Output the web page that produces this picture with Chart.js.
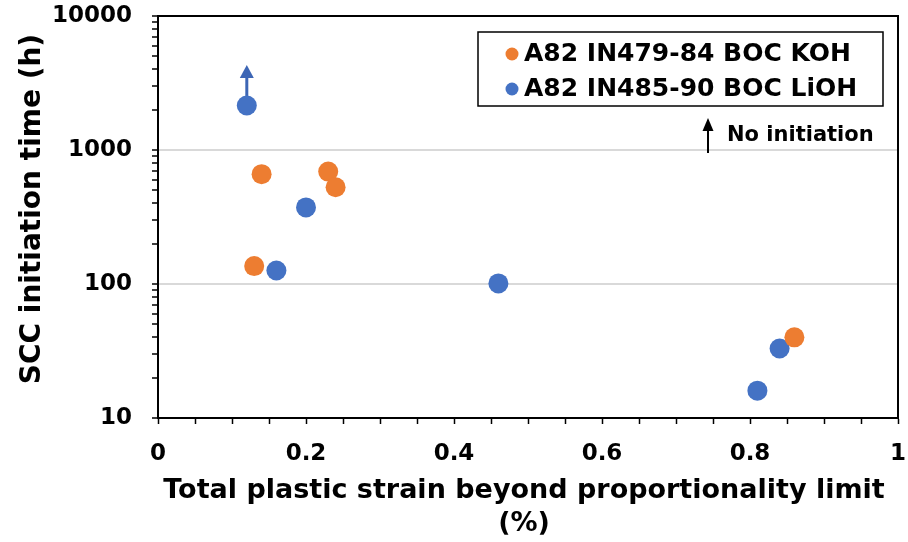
<!DOCTYPE html>
<html>
<head>
<meta charset="utf-8">
<script src="https://cdn.jsdelivr.net/npm/chart.js@4.4.0/dist/chart.umd.min.js"></script>
<style>
  body { margin: 0; background: #fff; }
  #wrap { width: 908px; height: 542px; }
</style>
</head>
<body>
<div id="wrap"><canvas id="sccChart" width="908" height="542"></canvas></div>
<script>
// data
const seriesLabels = ['A82 IN479-84 BOC KOH', 'A82 IN485-90 BOC LiOH'];
const kohStrain = [0.14, 0.13, 0.23, 0.24, 0.86];
const kohTime = [660, 136, 690, 527, 40];
const liohStrain = [0.12, 0.16, 0.20, 0.46, 0.81, 0.84];
const liohTime = [2150, 126, 373, 101, 16, 33];
const seriesColors = ['#ed7d31', '#4472c4'];

const xTickLabels = [0, 0.2, 0.4, 0.6, 0.8, 1];
const yTickLabels = [10, 100, 1000, 10000];

// blue point that never initiated (arrow goes up from it)
const noInitiation = { strain: 0.12, from: 2150, to: 4300 };

const FONT = '"DejaVu Sans", Verdana, sans-serif';

const toPoints = (xs, ys) => xs.map((x, i) => ({ x: x, y: ys[i] }));

// Function to draw a vertical arrow pointing up
const drawArrow = (ctx, x, yFrom, yTip, color, lineWidth, headW, headH) => {
    ctx.save();
    ctx.strokeStyle = color;
    ctx.fillStyle = color;
    ctx.lineWidth = lineWidth;
    ctx.beginPath();
    ctx.moveTo(x, yFrom);
    ctx.lineTo(x, yTip + headH - 1);
    ctx.stroke();
    ctx.beginPath();
    ctx.moveTo(x, yTip);
    ctx.lineTo(x - headW / 2, yTip + headH);
    ctx.lineTo(x + headW / 2, yTip + headH);
    ctx.closePath();
    ctx.fill();
    ctx.restore();
};

// labels may hang past the plot, don't let them shrink it
const noScalePadding = (scale) => {
    scale.paddingTop = 0;
    scale.paddingBottom = 0;
    scale.paddingLeft = 0;
    scale.paddingRight = 0;
};

const chartDecor = {
    id: 'chartDecor',
    beforeDatasetsDraw(chart) {
        const { ctx, scales } = chart;
        const px = scales.x.getPixelForValue(noInitiation.strain);
        const y0 = scales.y.getPixelForValue(noInitiation.from);
        const y1 = scales.y.getPixelForValue(noInitiation.to);
        drawArrow(ctx, px, y0, y1, '#3d66b5', 3, 14, 13);
    },
    afterDraw(chart) {
        const { ctx, chartArea } = chart;
        const { left, right, top, bottom } = chartArea;
        ctx.save();

        // top and right frame lines
        ctx.strokeStyle = '#000';
        ctx.lineWidth = 2;
        ctx.beginPath();
        ctx.moveTo(left, top);
        ctx.lineTo(right, top);
        ctx.lineTo(right, bottom);
        ctx.stroke();

        // legend box
        ctx.lineWidth = 1.5;
        ctx.strokeRect(478, 32, 405, 74);
        ctx.font = 'bold 25px ' + FONT;
        ctx.textBaseline = 'middle';
        ctx.textAlign = 'left';
        seriesLabels.forEach((label, i) => {
            const cy = 53 + i * 35;
            ctx.fillStyle = seriesColors[i];
            ctx.beginPath();
            ctx.arc(512, cy + 1, 6.5, 0, Math.PI * 2);
            ctx.fill();
            ctx.fillStyle = '#000';
            ctx.fillText(label, 524, cy + 1);
        });

        // "No initiation" note
        drawArrow(ctx, 708, 153, 118, '#000', 2, 11, 13);
        ctx.fillStyle = '#000';
        ctx.font = 'bold 21px ' + FONT;
        ctx.fillText('No initiation', 727, 136);

        // axis titles
        const midX = (left + right) / 2;
        ctx.font = 'bold 27px ' + FONT;
        ctx.textAlign = 'center';
        ctx.textBaseline = 'alphabetic';
        ctx.fillText('Total plastic strain beyond proportionality limit', midX - 4, 498);
        ctx.fillText('(%)', midX - 4, 531);

        ctx.translate(40, (top + bottom) / 2 - 8);
        ctx.rotate(-Math.PI / 2);
        ctx.font = 'bold 28px ' + FONT;
        ctx.fillText('SCC initiation time (h)', 0, 0);
        ctx.restore();
    },
};

const ctx = document.getElementById('sccChart').getContext('2d');

window.sccChart = new Chart(ctx, {
    type: 'scatter',
    data: {
        datasets: [
            {
                label: seriesLabels[0],
                data: toPoints(kohStrain, kohTime),
                backgroundColor: seriesColors[0],
                borderWidth: 0,
                pointRadius: 10,
            },
            {
                label: seriesLabels[1],
                data: toPoints(liohStrain, liohTime),
                backgroundColor: seriesColors[1],
                borderWidth: 0,
                pointRadius: 10,
            },
        ],
    },
    options: {
        responsive: false,
        animation: false,
        layout: { padding: { top: 16, right: 9, left: 0, bottom: 0 } },
        plugins: {
            legend: { display: false },
            tooltip: { enabled: false },
        },
        scales: {
            x: {
                type: 'linear',
                min: 0,
                max: 1,
                afterBuildTicks: (scale) => {
                    const ticks = [];
                    for (let i = 0; i <= 20; i++) ticks.push({ value: i / 20 });
                    scale.ticks = ticks;
                },
                afterFit: (scale) => {
                    scale.height = 124;
                    noScalePadding(scale);
                },
                ticks: {
                    autoSkip: false,
                    maxRotation: 0,
                    padding: 16,
                    color: '#000',
                    font: { family: FONT, size: 23, weight: 'bold' },
                    callback: (value) => {
                        const hit = xTickLabels.find((v) => Math.abs(v - value) < 1e-6);
                        return hit === undefined ? '' : String(hit);
                    },
                },
                grid: {
                    drawOnChartArea: false,
                    tickColor: '#000',
                    tickLength: 6,
                    tickWidth: 1.5,
                },
                border: { color: '#000', width: 2 },
            },
            y: {
                type: 'logarithmic',
                min: 10,
                max: 10000,
                afterBuildTicks: (scale) => {
                    const ticks = [];
                    for (let d = 0; d < yTickLabels.length - 1; d++) {
                        for (let m = 1; m < 10; m++) ticks.push({ value: yTickLabels[d] * m });
                    }
                    ticks.push({ value: yTickLabels[yTickLabels.length - 1] });
                    scale.ticks = ticks;
                },
                afterFit: (scale) => {
                    scale.width = 158;
                    noScalePadding(scale);
                },
                ticks: {
                    autoSkip: false,
                    padding: 20,
                    color: '#000',
                    font: { family: FONT, size: 23, weight: 'bold' },
                    callback: (value) => (yTickLabels.includes(value) ? String(value) : ''),
                },
                grid: {
                    color: (c) => (c.tick && (c.tick.value === 100 || c.tick.value === 1000) ? '#d9d9d9' : 'rgba(0,0,0,0)'),
                    lineWidth: 2,
                    tickColor: '#000',
                    tickLength: 6,
                    tickWidth: 1.5,
                },
                border: { color: '#000', width: 2 },
            },
        },
    },
    plugins: [chartDecor],
});
</script>
</body>
</html>
